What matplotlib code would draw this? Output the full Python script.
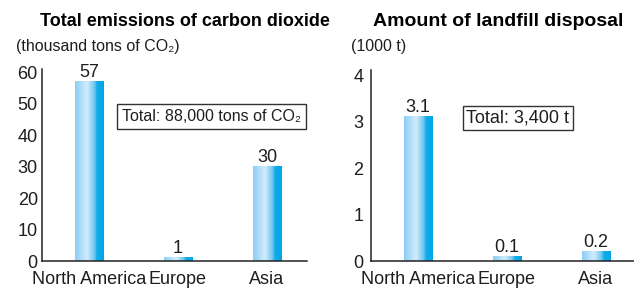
import numpy as np
import matplotlib
matplotlib.use("Agg")
import matplotlib.pyplot as plt
from matplotlib.colors import LinearSegmentedColormap

matplotlib.rcParams['font.family'] = ['Liberation Sans', 'DejaVu Sans']

regions = ["North America", "Europe", "Asia"]
co2_values = [57, 1, 30]
co2_labels = ["57", "1", "30"]
landfill_values = [3.1, 0.1, 0.2]
landfill_labels = ["3.1", "0.1", "0.2"]

# horizontal gradient used for the bars
bar_cmap = LinearSegmentedColormap.from_list(
    "bar", [(0.0, "#8dcff5"), (0.42, "#d2ecfb"), (0.68, "#6cc6f1"),
            (0.76, "#12acea"), (1.0, "#00a5e7")])
grad = np.linspace(0, 1, 64).reshape(1, -1)

txt = "#1e1e1e"
fig = plt.figure(figsize=(6.34, 2.89), dpi=100)


def bar_panel(ax, values, labels, ymax, yticks, ypad, xmax):
    x = np.arange(len(values))
    bars = ax.bar(x, values, width=0.315, alpha=0)
    for b, lab in zip(bars, labels):
        x0, w, h = b.get_x(), b.get_width(), b.get_height()
        ax.imshow(grad, cmap=bar_cmap, extent=[x0, x0 + w, 0, h],
                  aspect='auto', zorder=2)
        ax.annotate(lab, (x0 + w / 2, h), xytext=(0, 0.5),
                    textcoords='offset points', ha='center', va='bottom',
                    fontsize=13, color=txt)
    ax.set_xlim(-0.528, xmax)
    ax.set_ylim(0, ymax)
    ax.set_yticks(yticks)
    ax.set_xticks(x)
    ax.set_xticklabels(regions)
    ax.tick_params(axis='both', length=0, labelsize=13, colors=txt)
    ax.tick_params(axis='y', pad=ypad)
    ax.tick_params(axis='x', pad=7)
    for s in ['top', 'right']:
        ax.spines[s].set_visible(False)
    for s in ['left', 'bottom']:
        ax.spines[s].set_color("#222222")
        ax.spines[s].set_linewidth(1.1)


ax1 = fig.add_axes([42 / 634, 1 - 261 / 289, 265 / 634, 192 / 289])
bar_panel(ax1, co2_values, co2_labels, 61, [0, 10, 20, 30, 40, 50, 60], 3, 2.45)
ax1.text((211.5 - 42) / 265, (261 - 116.5) / 192, "Total: 88,000 tons of CO\u2082",
         transform=ax1.transAxes, ha='center', va='center', fontsize=11.5,
         color=txt,
         bbox=dict(boxstyle='square,pad=0.3', fc='white', ec='#333333', lw=1))

ax2 = fig.add_axes([371 / 634, 1 - 261 / 289, 263 / 634, 191 / 289])
bar_panel(ax2, landfill_values, landfill_labels, 4.11, [0, 1, 2, 3, 4], 5.5, 2.43)
ax2.text((518 - 371) / 263, (261 - 118) / 191, "Total: 3,400 t",
         transform=ax2.transAxes, ha='center', va='center', fontsize=13,
         color=txt,
         bbox=dict(boxstyle='square,pad=0.2', fc='white', ec='#333333', lw=1))

fig.text(40 / 634, 1 - 21 / 289, "Total emissions of carbon dioxide",
         fontsize=13, fontweight='bold', color='black', va='center')
fig.text(373 / 634, 1 - 21 / 289, "Amount of landfill disposal",
         fontsize=14, fontweight='bold', color='black', va='center')
fig.text(16 / 634, 1 - 46 / 289, "(thousand tons of CO\u2082)",
         fontsize=11.5, color=txt, va='center')
fig.text(351 / 634, 1 - 46 / 289, "(1000 t)",
         fontsize=11.5, color=txt, va='center')

fig.savefig("out.png", dpi=100)
